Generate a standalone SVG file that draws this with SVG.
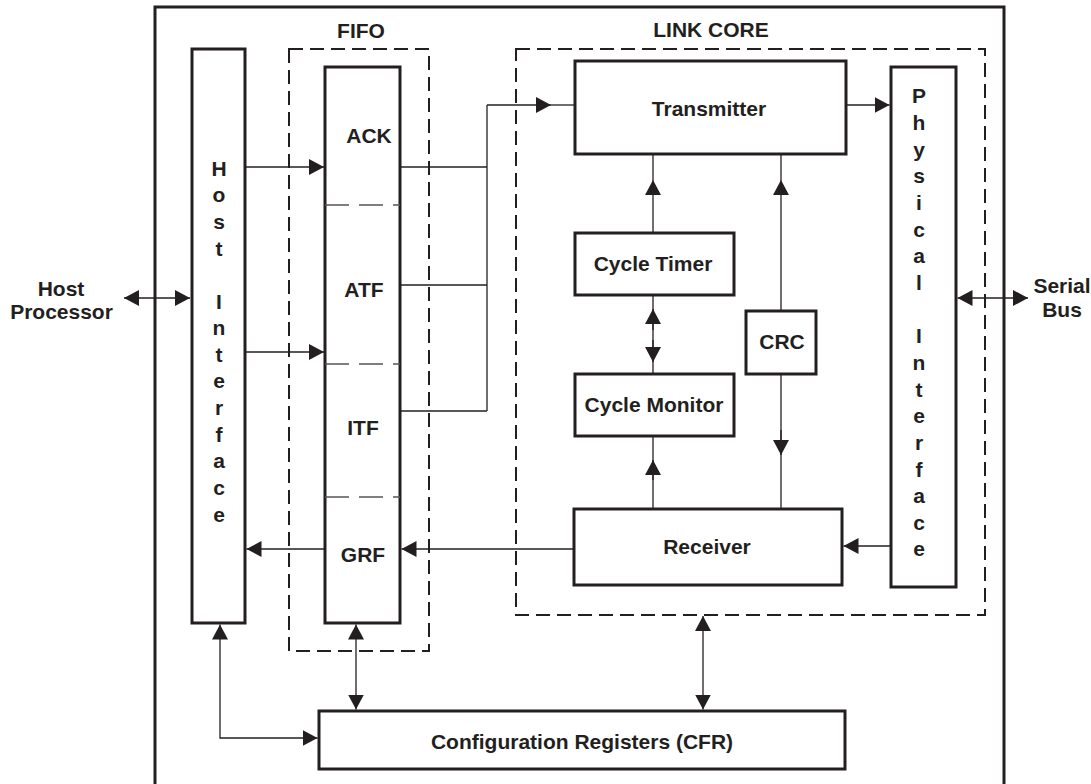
<svg xmlns="http://www.w3.org/2000/svg" width="1091" height="784" viewBox="0 0 1091 784">
<style>
.box{fill:#fff;stroke:#231f20;stroke-width:3}
.dash{fill:none;stroke:#231f20;stroke-width:2;stroke-dasharray:14 7}
.div{fill:none;stroke:#555;stroke-width:1.3;stroke-dasharray:24 10}
.ln{fill:none;stroke:#231f20;stroke-width:1.3}
.a{marker-end:url(#ah)}
.aa{marker-end:url(#ah);marker-start:url(#ah)}
text{font-family:"Liberation Sans",Arial,sans-serif;font-weight:bold;font-size:21px;fill:#231f20;text-anchor:middle}
</style>
<defs>
<marker id="ah" markerUnits="userSpaceOnUse" markerWidth="15" markerHeight="16" viewBox="0 0 15 16" refX="15" refY="8" orient="auto-start-reverse">
<path d="M0,0 L15,8 L0,16 z" fill="#231f20"/>
</marker>
</defs>
<rect x="155" y="7" width="849" height="790" fill="none" stroke="#231f20" stroke-width="3"/>
<g id="fifo-group">
<rect class="dash" x="289" y="49" width="140" height="602"/>
<text x="361" y="38">FIFO</text>
</g>
<g id="linkcore-group">
<rect class="dash" x="516" y="49" width="469" height="566"/>
<text x="711" y="37">LINK CORE</text>
</g>
<g id="host-interface">
<rect class="box" x="192" y="49" width="53" height="574"/>
<text><tspan x="219" y="176">H</tspan><tspan x="219" y="202">o</tspan><tspan x="219" y="229">s</tspan><tspan x="219" y="256">t</tspan><tspan x="219" y="309">I</tspan><tspan x="219" y="335">n</tspan><tspan x="219" y="362">t</tspan><tspan x="219" y="388">e</tspan><tspan x="219" y="415">r</tspan><tspan x="219" y="442">f</tspan><tspan x="219" y="468">a</tspan><tspan x="219" y="495">c</tspan><tspan x="219" y="522">e</tspan></text>
</g>
<g id="fifo">
<rect class="box" x="325" y="67" width="75" height="556"/>
<line class="div" x1="325" y1="205" x2="400" y2="205"/>
<line class="div" x1="325" y1="364" x2="400" y2="364"/>
<line class="div" x1="325" y1="497" x2="400" y2="497"/>
<text x="369" y="143">ACK</text>
<text x="364" y="297">ATF</text>
<text x="363" y="435">ITF</text>
<text x="363" y="562">GRF</text>
</g>
<g id="transmitter">
<rect class="box" x="575" y="61" width="271" height="93"/>
<text x="709" y="116">Transmitter</text>
</g>
<g id="cycle-timer">
<rect class="box" x="575" y="233" width="159" height="62"/>
<text x="653" y="271">Cycle Timer</text>
</g>
<g id="cycle-monitor">
<rect class="box" x="575" y="374" width="159" height="62"/>
<text x="654" y="412">Cycle Monitor</text>
</g>
<g id="crc">
<rect class="box" x="746" y="311" width="70" height="63"/>
<text x="782" y="349">CRC</text>
</g>
<g id="receiver">
<rect class="box" x="574" y="509" width="268" height="76"/>
<text x="707" y="554">Receiver</text>
</g>
<g id="physical-interface">
<rect class="box" x="891" y="67" width="65" height="520"/>
<text><tspan x="919" y="103">P</tspan><tspan x="919" y="130">h</tspan><tspan x="919" y="157">y</tspan><tspan x="919" y="183">s</tspan><tspan x="919" y="210">i</tspan><tspan x="919" y="237">c</tspan><tspan x="919" y="263">a</tspan><tspan x="919" y="290">l</tspan><tspan x="919" y="343">I</tspan><tspan x="919" y="370">n</tspan><tspan x="919" y="397">t</tspan><tspan x="919" y="423">e</tspan><tspan x="919" y="450">r</tspan><tspan x="919" y="477">f</tspan><tspan x="919" y="503">a</tspan><tspan x="919" y="530">c</tspan><tspan x="919" y="556">e</tspan></text>
</g>
<g id="cfr">
<rect class="box" x="319" y="711" width="526" height="58"/>
<text x="582" y="749">Configuration Registers (CFR)</text>
</g>
<g id="host-processor">
<text x="61" y="296">Host</text>
<text x="61.5" y="319">Processor</text>
</g>
<g id="serial-bus">
<text x="1062" y="293">Serial</text>
<text x="1062" y="317">Bus</text>
</g>
<g id="connectors">
<line class="ln aa" x1="124" y1="298" x2="190" y2="298"/>
<line class="ln a" x1="245" y1="167" x2="324" y2="167"/>
<line class="ln a" x1="245" y1="352" x2="324" y2="352"/>
<line class="ln a" x1="325" y1="549" x2="246.5" y2="549"/>
<line class="ln a" x1="574" y1="549" x2="401.5" y2="549"/>
<line class="ln" x1="400" y1="167" x2="487" y2="167"/>
<line class="ln" x1="400" y1="285" x2="487" y2="285"/>
<line class="ln" x1="400" y1="411" x2="487" y2="411"/>
<line class="ln" x1="487" y1="105" x2="487" y2="411"/>
<line class="ln a" x1="487" y1="105" x2="551" y2="105"/>
<line class="ln" x1="551" y1="105" x2="575" y2="105"/>
<line class="ln a" x1="846" y1="105" x2="889.5" y2="105"/>
<line class="ln a" x1="653" y1="233" x2="653" y2="180"/>
<line class="ln" x1="653" y1="180" x2="653" y2="154"/>
<line class="ln a" x1="781" y1="311" x2="781" y2="180"/>
<line class="ln" x1="781" y1="180" x2="781" y2="154"/>
<line class="ln" x1="653" y1="295" x2="653" y2="374"/>
<line class="ln a" x1="653" y1="330" x2="653" y2="309"/>
<line class="ln a" x1="653" y1="340" x2="653" y2="362"/>
<line class="ln" x1="653" y1="509" x2="653" y2="436"/>
<line class="ln a" x1="653" y1="480" x2="653" y2="460"/>
<line class="ln" x1="781" y1="374" x2="781" y2="509"/>
<line class="ln a" x1="781" y1="430" x2="781" y2="455"/>
<line class="ln a" x1="890" y1="546" x2="843.5" y2="546"/>
<line class="ln aa" x1="957.5" y1="298" x2="1028" y2="298"/>
<path class="ln aa" d="M220,624.5 L220,738 L317.5,738"/>
<line class="ln aa" x1="356" y1="624.5" x2="356" y2="709.5"/>
<line class="ln aa" x1="703" y1="616" x2="703" y2="709.5"/>
</g>
</svg>
